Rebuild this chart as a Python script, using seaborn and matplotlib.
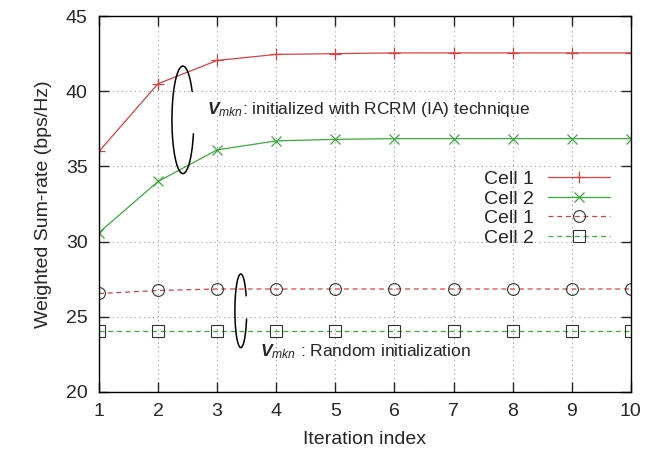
import matplotlib
matplotlib.use("Agg")
import matplotlib.pyplot as plt
import seaborn as sns
import pandas as pd
import numpy as np

# values
iterations = [1, 2, 3, 4, 5, 6, 7, 8, 9, 10]
rcrm_cell1 = [36.0, 40.5, 42.05, 42.45, 42.5, 42.55, 42.55, 42.55, 42.55, 42.55]
rcrm_cell2 = [30.6, 34.0, 36.1, 36.7, 36.8, 36.85, 36.85, 36.85, 36.85, 36.85]
rand_cell1 = [26.55, 26.75, 26.85, 26.85, 26.85, 26.85, 26.85, 26.85, 26.85, 26.85]
rand_cell2 = [24.05, 24.05, 24.05, 24.05, 24.05, 24.05, 24.05, 24.05, 24.05, 24.05]
labels = ["Cell 1", "Cell 2", "Cell 1", "Cell 2"]

RED = "#d84040"
GREEN = "#3caa3c"


def open_ellipse(ax, cx, cy, w, h, t1, t2):
    # open ellipse (gap on the right side), parametric angles in degrees
    t = np.deg2rad(np.linspace(t1, t2, 200))
    ax.plot(cx + w / 2 * np.cos(t), cy + h / 2 * np.sin(t), color="black", lw=1.1)


sns.set_style("ticks")
plt.rcParams["font.family"] = ["Liberation Sans", "DejaVu Sans"]
plt.rcParams["mathtext.fontset"] = "custom"
plt.rcParams["mathtext.rm"] = "Liberation Sans"
plt.rcParams["mathtext.it"] = "Liberation Sans:italic"
plt.rcParams["mathtext.bf"] = "Liberation Sans:bold:italic"

fig = plt.figure(figsize=(6.51, 4.59), dpi=100)
ax = fig.add_axes([0.152, 0.146, 0.817, 0.819])

df = pd.DataFrame({"it": iterations, "a": rcrm_cell1, "b": rcrm_cell2,
                   "c": rand_cell1, "d": rand_cell2})

sns.lineplot(data=df, x="it", y="a", ax=ax, color=RED, lw=0.9, marker="+",
             markersize=8.5, markeredgewidth=0.9, markeredgecolor=RED,
             label=labels[0])
sns.lineplot(data=df, x="it", y="b", ax=ax, color=GREEN, lw=0.9, marker="x",
             markersize=7.5, markeredgewidth=0.9, markeredgecolor=GREEN,
             label=labels[1])
sns.lineplot(data=df, x="it", y="c", ax=ax, color=RED, lw=0.9, ls=(0, (4, 3)),
             marker="o", markersize=8.5, markerfacecolor="none",
             markeredgecolor="#333333", markeredgewidth=0.8, label=labels[2])
sns.lineplot(data=df, x="it", y="d", ax=ax, color=GREEN, lw=0.9, ls=(0, (4, 3)),
             marker="s", markersize=8.5, markerfacecolor="none",
             markeredgecolor="#333333", markeredgewidth=0.8, label=labels[3])

ax.set_xlim(1, 10)
ax.set_ylim(20, 45)
ax.set_xticks(range(1, 11))
ax.set_yticks(range(20, 46, 5))
ax.grid(True, color="#9a9a9a", lw=0.8, ls=(0, (1, 3)))
ax.tick_params(direction="in", length=7, width=1, top=True, right=True,
               labelsize=14, pad=8)
for s in ax.spines.values():
    s.set_linewidth(1.0)
    s.set_color("black")
ax.set_xlabel("Iteration index", fontsize=14, labelpad=8)
ax.set_ylabel("Weighted Sum-rate (bps/Hz)", fontsize=14, labelpad=10)

# annotations
open_ellipse(ax, 2.42, 38.1, 0.37, 7.15, 32, 345)
open_ellipse(ax, 3.40, 25.4, 0.20, 4.9, 24, 347)
ax.text(2.83, 38.8, r"$\mathbf{V}_{mkn}$: initialized with RCRM (IA) technique",
        fontsize=12.5, va="center", ha="left")
ax.text(3.72, 22.7, r"$\mathbf{V}_{mkn}$ : Random initialization",
        fontsize=12.5, va="center", ha="left")

ax.legend(loc="upper right", bbox_to_anchor=(0.975, 0.61), frameon=False,
          markerfirst=False, fontsize=14, handlelength=3.2, handletextpad=0.7,
          labelspacing=0.1, borderaxespad=0)

fig.savefig("out.png", dpi=100)
